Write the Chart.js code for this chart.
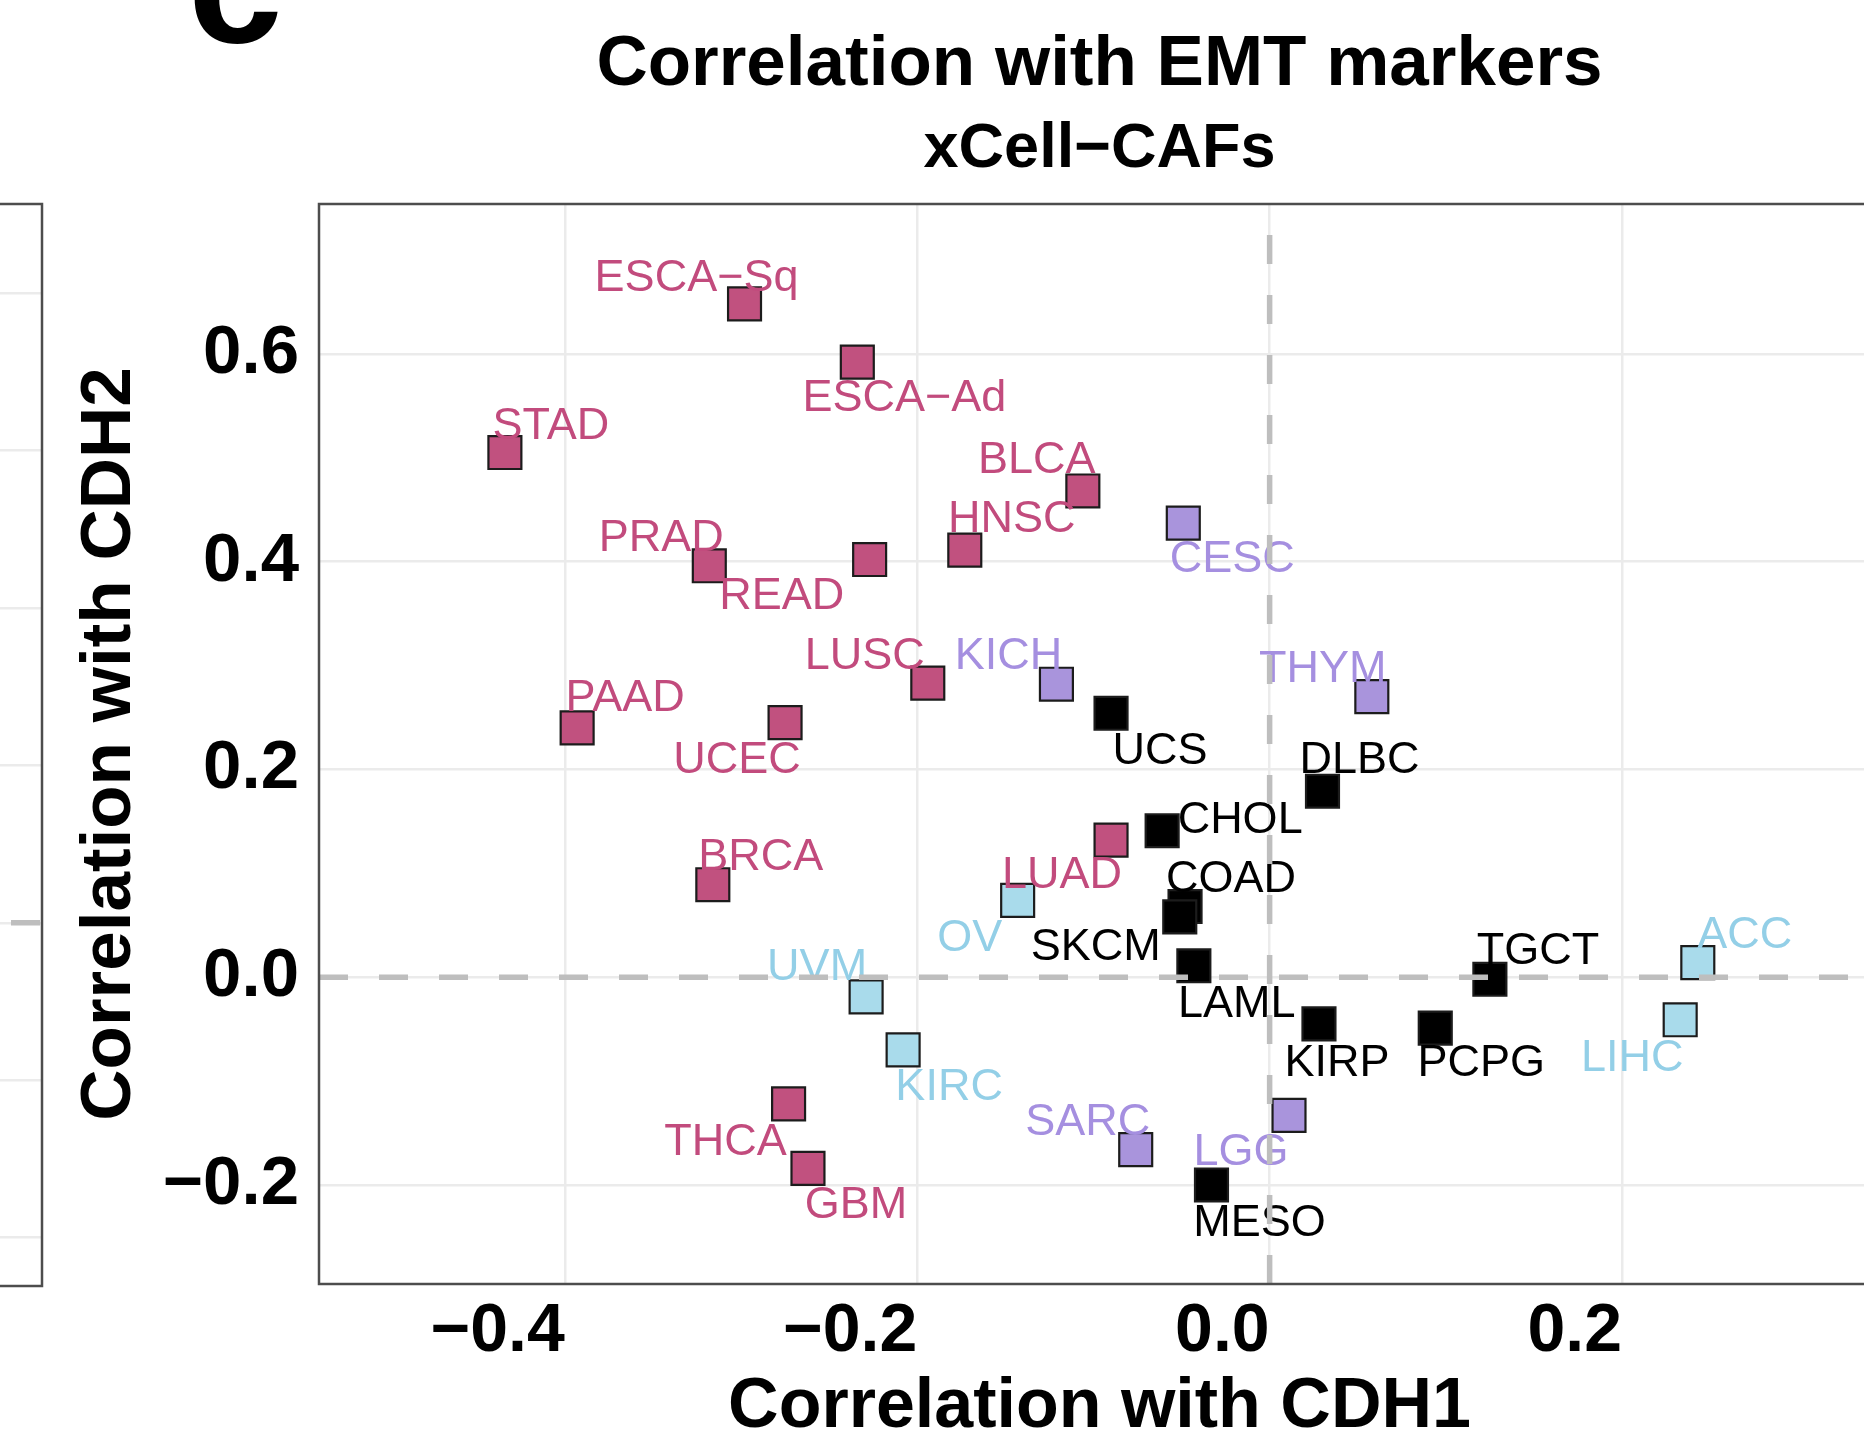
<!DOCTYPE html>
<html>
<head>
<meta charset="utf-8">
<script src="https://cdn.jsdelivr.net/npm/chart.js@4.4.1/dist/chart.umd.min.js"></script>
<style>
  html, body { margin: 0; padding: 0; background: #ffffff; overflow: hidden; width: 1864px; height: 1444px; }
  #main { position: absolute; left: 0; top: 0; width: 1880px; height: 1444px; }
  #prev { position: absolute; left: -200px; top: 0; width: 244px; height: 1444px; }
</style>
</head>
<body>
<canvas id="main" width="1880" height="1444"></canvas>
<canvas id="prev" width="244" height="1444"></canvas>
<script>
// ---------------- data ----------------
const cancerTypes = ['STAD', 'ESCA\u2212Sq', 'ESCA\u2212Ad', 'PRAD', 'READ', 'HNSC', 'BLCA', 'PAAD', 'UCEC', 'LUSC',
  'BRCA', 'LUAD', 'THCA', 'GBM', 'CESC', 'KICH', 'THYM', 'SARC', 'LGG', 'OV',
  'UVM', 'KIRC', 'ACC', 'LIHC', 'UCS', 'DLBC', 'CHOL', 'COAD', 'SKCM', 'LAML',
  'TGCT', 'KIRP', 'PCPG', 'MESO'];
// correlation with CDH1 (x)
const corrCDH1 = [-0.434, -0.298, -0.234, -0.318, -0.227, -0.173, -0.106, -0.393, -0.275, -0.194,
  -0.316, -0.090, -0.273, -0.262, -0.049, -0.121, 0.058, -0.076, 0.011, -0.143,
  -0.229, -0.208, 0.243, 0.233, -0.090, 0.030, -0.061, -0.048, -0.051, -0.043,
  0.125, 0.028, 0.094, -0.033];
// correlation with CDH2 (y)
const corrCDH2 = [0.505, 0.648, 0.592, 0.396, 0.402, 0.411, 0.468, 0.240, 0.245, 0.283,
  0.089, 0.132, -0.122, -0.184, 0.437, 0.282, 0.270, -0.166, -0.133, 0.074,
  -0.019, -0.070, 0.014, -0.041, 0.254, 0.179, 0.141, 0.068, 0.058, 0.011,
  -0.002, -0.045, -0.049, -0.200];
// cluster membership (colour group)
const clusterOf = [1, 1, 1, 1, 1, 1, 1, 1, 1, 1,
  1, 1, 1, 1, 2, 2, 2, 2, 2, 3,
  3, 3, 3, 3, 4, 4, 4, 4, 4, 4,
  4, 4, 4, 4];
const clusterNames = ['Cluster 1', 'Cluster 2', 'Cluster 3', 'Cluster 4'];

// axes
const xTickValues = [-0.4, -0.2, 0.0, 0.2];
const xTickLabels = ['\u22120.4', '\u22120.2', '0.0', '0.2'];
const yTickValues = [-0.2, 0.0, 0.2, 0.4, 0.6];
const yTickLabels = ['\u22120.2', '0.0', '0.2', '0.4', '0.6'];
const xRange = [-0.5395, 0.3464];
const yRange = [-0.2953, 0.7442];
const refCDH1 = 0.0;   // vertical dashed reference
const refCDH2 = 0.0;   // horizontal dashed reference

// neighbouring panel remnant (left edge)
const prevYTicks = [-0.2, -0.1, 0.0, 0.1, 0.2, 0.3, 0.4];
const prevYRange = [-0.2307, 0.4567];
const prevRef = 0.0;

// ---------------- style / layout ----------------
const FONT = "'Liberation Sans', Arial, Helvetica, sans-serif";
const clusterStyle = [
  { fill: '#C1517F', text: '#C24B7D' },
  { fill: '#A994DC', text: '#A58FE0' },
  { fill: '#A9DBEB', text: '#93CFE7' },
  { fill: '#000000', text: '#000000' }
];
// label nudges in pixels: [dx to text centre, dy to text baseline]
const labelNudge = [[46, -14], [-48, -13], [47, 49], [-48, -15], [-88, 49], [47, -18], [-46, -18], [48, -17], [-48, 50], [-63, -14],
  [48, -15], [-49, 48], [-63, 51], [48, 50], [49, 49], [-48, -15], [-49, -15], [-48, -15], [-48, 50], [-48, 51],
  [-49, -17], [46, 50], [47, -15], [-48, 51], [49, 51], [37, -18], [78, 2], [46, -15], [-84, 43], [43, 51],
  [48, -15], [18, 52], [46, 48], [48, 51]];

const datasets = clusterNames.map((name, ci) => {
  const idx = cancerTypes.map((_, i) => i).filter(i => clusterOf[i] === ci + 1);
  return {
    label: name,
    data: idx.map(i => ({ x: corrCDH1[i], y: corrCDH2[i], k: i })),
    backgroundColor: clusterStyle[ci].fill,
    borderColor: '#1c1c1c',
    borderWidth: 2.2,
    pointStyle: 'rect',
    pointRadius: 23.3,
    pointHoverRadius: 23.3,
    labelColor: clusterStyle[ci].text
  };
});

const overlay = {
  id: 'overlay',
  afterDatasetsDraw(chart) {
    const { ctx, chartArea: a, scales: { x, y } } = chart;
    // text labels
    ctx.save();
    ctx.font = '45px ' + FONT;
    ctx.textAlign = 'center';
    ctx.textBaseline = 'alphabetic';
    chart.data.datasets.forEach((ds, di) => {
      const meta = chart.getDatasetMeta(di);
      meta.data.forEach((pt, j) => {
        const k = ds.data[j].k;
        ctx.fillStyle = ds.labelColor;
        ctx.fillText(cancerTypes[k], pt.x + labelNudge[k][0], pt.y + labelNudge[k][1]);
      });
    });
    ctx.restore();
    // dashed reference lines
    ctx.save();
    ctx.beginPath();
    ctx.rect(a.left, a.top, a.right - a.left, a.bottom - a.top);
    ctx.clip();
    ctx.strokeStyle = '#BEBEBE';
    ctx.lineWidth = 5.5;
    ctx.setLineDash([29, 31]);
    const py = y.getPixelForValue(refCDH2);
    ctx.beginPath(); ctx.moveTo(a.left, py); ctx.lineTo(a.right, py); ctx.stroke();
    const px = x.getPixelForValue(refCDH1);
    ctx.beginPath(); ctx.moveTo(px, a.bottom); ctx.lineTo(px, a.top); ctx.stroke();
    ctx.restore();
    // panel border
    ctx.save();
    ctx.strokeStyle = '#4D4D4D';
    ctx.lineWidth = 2.5;
    ctx.strokeRect(a.left, a.top, a.right - a.left, a.bottom - a.top);
    ctx.restore();
  },
  afterDraw(chart) {
    const ctx = chart.ctx;
    ctx.save();
    ctx.fillStyle = '#000';
    ctx.font = 'bold 170px ' + FONT;
    ctx.textAlign = 'left';
    ctx.textBaseline = 'alphabetic';
    ctx.fillText('c', 188, 42);
    ctx.restore();
  }
};

new Chart(document.getElementById('main'), {
  type: 'scatter',
  data: { datasets },
  options: {
    responsive: false,
    animation: false,
    events: [],
    layout: { padding: 0, autoPadding: false },
    plugins: {
      legend: { display: false },
      tooltip: { enabled: false },
      title: {
        display: true, text: 'Correlation with EMT markers', color: '#000', fullSize: false,
        font: { family: FONT, size: 71, weight: 'bold', lineHeight: 1 },
        padding: { top: 30, bottom: 17 }
      },
      subtitle: {
        display: true, text: 'xCell\u2212CAFs', color: '#000', fullSize: false,
        font: { family: FONT, size: 63, weight: 'bold', lineHeight: 1 },
        padding: { top: 0, bottom: 23 }
      }
    },
    scales: {
      x: {
        type: 'linear', min: xRange[0], max: xRange[1],
        afterBuildTicks: s => { s.ticks = xTickValues.map(v => ({ value: v })); },
        afterFit: s => { s.height = 160; },
        grid: { color: '#EBEBEB', lineWidth: 2.5, drawTicks: false },
        border: { display: false },
        ticks: {
          align: 'end', padding: 14, color: '#000', maxRotation: 0, autoSkip: false,
          font: { family: FONT, size: 68, weight: 'bold', lineHeight: 1 },
          callback: (v, i) => xTickLabels[i]
        },
        title: {
          display: true, text: 'Correlation with CDH1', color: '#000',
          font: { family: FONT, size: 70, weight: 'bold', lineHeight: 1 },
          padding: { top: 0, bottom: 1 }
        }
      },
      y: {
        type: 'linear', min: yRange[0], max: yRange[1],
        afterBuildTicks: s => { s.ticks = yTickValues.map(v => ({ value: v })); },
        afterFit: s => { s.width = 319; },
        grid: { color: '#EBEBEB', lineWidth: 2.5, drawTicks: false },
        border: { display: false },
        ticks: {
          padding: 20, color: '#000', autoSkip: false,
          font: { family: FONT, size: 69, weight: 'bold', lineHeight: 1 },
          callback: (v, i) => yTickLabels[i]
        },
        title: {
          display: true, text: 'Correlation with CDH2', color: '#000',
          font: { family: FONT, size: 71, weight: 'bold', lineHeight: 1 },
          padding: { top: 75, bottom: 0 }
        }
      }
    }
  },
  plugins: [overlay]
});

// remnant of the neighbouring panel on the left edge
const prevOverlay = {
  id: 'prevOverlay',
  afterDatasetsDraw(chart) {
    const { ctx, chartArea: a, scales: { y } } = chart;
    ctx.save();
    ctx.beginPath();
    ctx.rect(a.left, a.top, a.right - a.left, a.bottom - a.top);
    ctx.clip();
    ctx.strokeStyle = '#BEBEBE';
    ctx.lineWidth = 5.5;
    ctx.setLineDash([29, 31]);
    const py = y.getPixelForValue(prevRef);
    ctx.beginPath(); ctx.moveTo(a.right - 2, py); ctx.lineTo(a.left, py); ctx.stroke();
    ctx.restore();
    ctx.save();
    ctx.strokeStyle = '#4D4D4D';
    ctx.lineWidth = 2.5;
    ctx.strokeRect(a.left, a.top, a.right - a.left, a.bottom - a.top);
    ctx.restore();
  }
};

new Chart(document.getElementById('prev'), {
  type: 'scatter',
  data: { datasets: [] },
  options: {
    responsive: false,
    animation: false,
    events: [],
    layout: { padding: { top: 204, bottom: 158, left: 0, right: 2 }, autoPadding: false },
    plugins: { legend: { display: false }, tooltip: { enabled: false } },
    scales: {
      x: { display: false, min: 0, max: 1 },
      y: {
        min: prevYRange[0], max: prevYRange[1],
        afterBuildTicks: s => { s.ticks = prevYTicks.map(v => ({ value: v })); },
        afterFit: s => { s.width = 0; },
        ticks: { display: false },
        grid: { color: '#EBEBEB', lineWidth: 2.5, drawTicks: false },
        border: { display: false }
      }
    }
  },
  plugins: [prevOverlay]
});
</script>
</body>
</html>
